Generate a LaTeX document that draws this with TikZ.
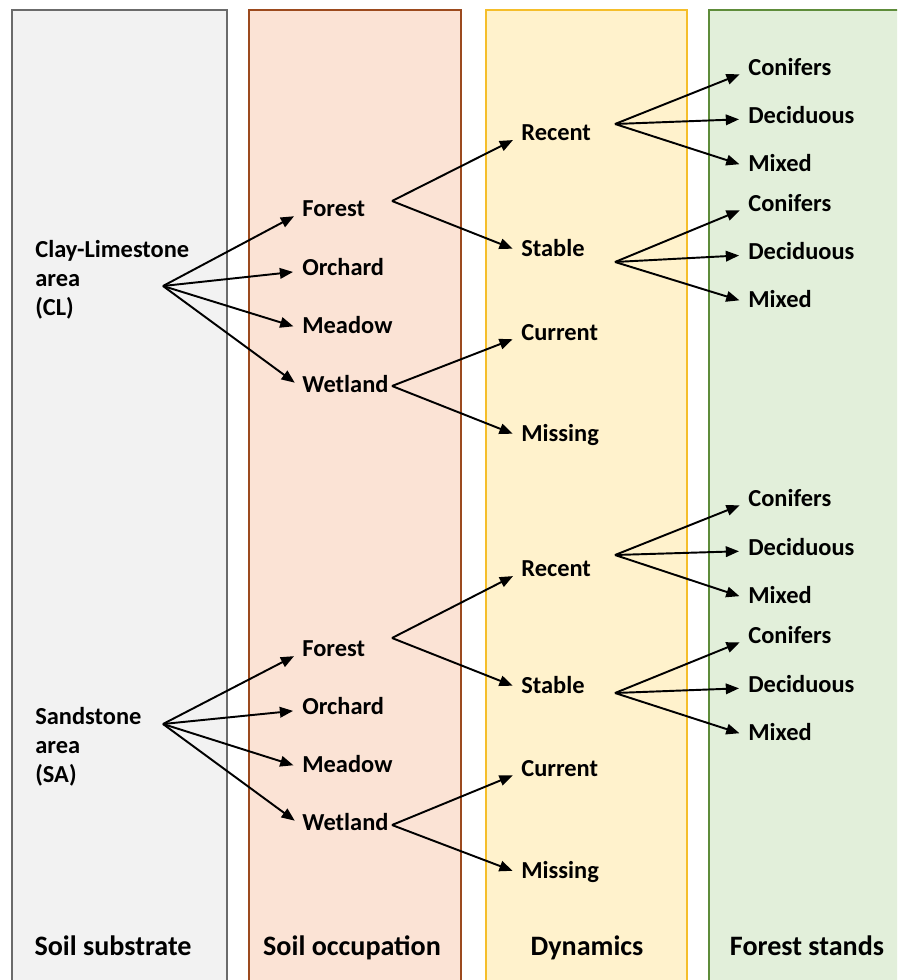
\documentclass[tikz,border=0pt]{standalone}
\usepackage{fontspec}
\setmainfont{Carlito}
\usepackage{tikz}
\usetikzlibrary{arrows.meta}

\definecolor{subFill}{HTML}{F2F2F2}
\definecolor{subLine}{HTML}{6B6B6B}
\definecolor{occFill}{HTML}{FBE3D5}
\definecolor{occLine}{HTML}{9C4A1E}
\definecolor{dynFill}{HTML}{FFF2CC}
\definecolor{dynLine}{HTML}{F5BE2A}
\definecolor{forFill}{HTML}{E2EFDA}
\definecolor{forLine}{HTML}{5E8C3A}

\begin{document}
\begin{tikzpicture}[x=0.02cm,y=-0.02cm,
	txt/.style={inner sep=0pt,font=\bfseries\fontsize{13.9}{16.4}\selectfont},
	lbl/.style={txt,anchor=west,text height=0.72em,text depth=0.2em},
	title/.style={inner sep=0pt,font=\bfseries\fontsize{16}{19}\selectfont,text height=0.72em,text depth=0.2em},
	arr/.style={-{Triangle[length=7.5pt,width=6pt]},line width=1.1pt,shorten >=0.18cm}]
					% Frame
					\useasboundingbox (0,0) rectangle (897,980);
					\clip (0,0) rectangle (897,980);
					% Define the columns
					\draw[line width=1.1pt,subLine,fill=subFill] (12,10) rectangle (227,995);
					\draw[line width=1.1pt,occLine,fill=occFill] (249,10) rectangle (461,995);
					\draw[line width=1.1pt,dynLine,fill=dynFill] (486,10) rectangle (687,995);
					\fill[forFill] (709,10) rectangle (960,995);
					\draw[line width=1.1pt,forLine] (960,10) -- (709,10) -- (709,995);
					% Column titles
					\node[title] (t1) at (113,951) {Soil substrate};
					\node[title] (t2) at (352,951) {Soil occupation};
					\node[title] (t3) at (587,951) {Dynamics};
					\node[title] (t4) at (807,951) {Forest stands};
					% Soil substrate
					\node[txt,anchor=west,align=left] (cl) at (35,280) {Clay-Limestone\\area\\(CL)};
					\node[txt,anchor=west,align=left] (sa) at (35,747) {Sandstone\\area\\(SA)};
					% Soil occupation
					\foreach \n/\y/\t in {f1/212/Forest,o1/271/Orchard,m1/329/Meadow,w1/388/Wetland,
						f2/652/Forest,o2/710/Orchard,m2/768/Meadow,w2/826/Wetland}
						\node[lbl] (\n) at (302,\y) {\t};
					% Dynamics
					\foreach \n/\y/\t in {rc1/136/Recent,st1/252/Stable,cu1/336/Current,mi1/437/Missing,
						rc2/572/Recent,st2/689/Stable,cu2/772/Current,mi2/874/Missing}
						\node[lbl] (\n) at (521,\y) {\t};
					% Forest stands
					\foreach \n/\y/\t in {co1/71/Conifers,de1/119/Deciduous,mx1/167/Mixed,
						co2/207/Conifers,de2/255/Deciduous,mx2/303/Mixed,
						co3/502/Conifers,de3/551/Deciduous,mx3/599/Mixed,
						co4/639/Conifers,de4/688/Deciduous,mx4/736/Mixed}
						\node[lbl] (\n) at (748,\y) {\t};
					% Branching points
					\coordinate (clo) at (163,286);
					\coordinate (sao) at (163,724);
					\coordinate (f1o) at (392,201);
					\coordinate (w1o) at (392,386);
					\coordinate (f2o) at (392,638);
					\coordinate (w2o) at (392,825);
					\coordinate (rc1o) at (615,124);
					\coordinate (st1o) at (615,262);
					\coordinate (rc2o) at (615,555);
					\coordinate (st2o) at (615,693);
					% Arrows
					\foreach \n in {f1,o1,m1,w1} \draw[arr] (clo) -- (\n.west);
					\foreach \n in {f2,o2,m2,w2} \draw[arr] (sao) -- (\n.west);
					\foreach \n in {rc1,st1} \draw[arr] (f1o) -- (\n.west);
					\foreach \n in {cu1,mi1} \draw[arr] (w1o) -- (\n.west);
					\foreach \n in {rc2,st2} \draw[arr] (f2o) -- (\n.west);
					\foreach \n in {cu2,mi2} \draw[arr] (w2o) -- (\n.west);
					\foreach \n in {co1,de1,mx1} \draw[arr] (rc1o) -- (\n.west);
					\foreach \n in {co2,de2,mx2} \draw[arr] (st1o) -- (\n.west);
					\foreach \n in {co3,de3,mx3} \draw[arr] (rc2o) -- (\n.west);
					\foreach \n in {co4,de4,mx4} \draw[arr] (st2o) -- (\n.west);
				\end{tikzpicture}
\end{document}
